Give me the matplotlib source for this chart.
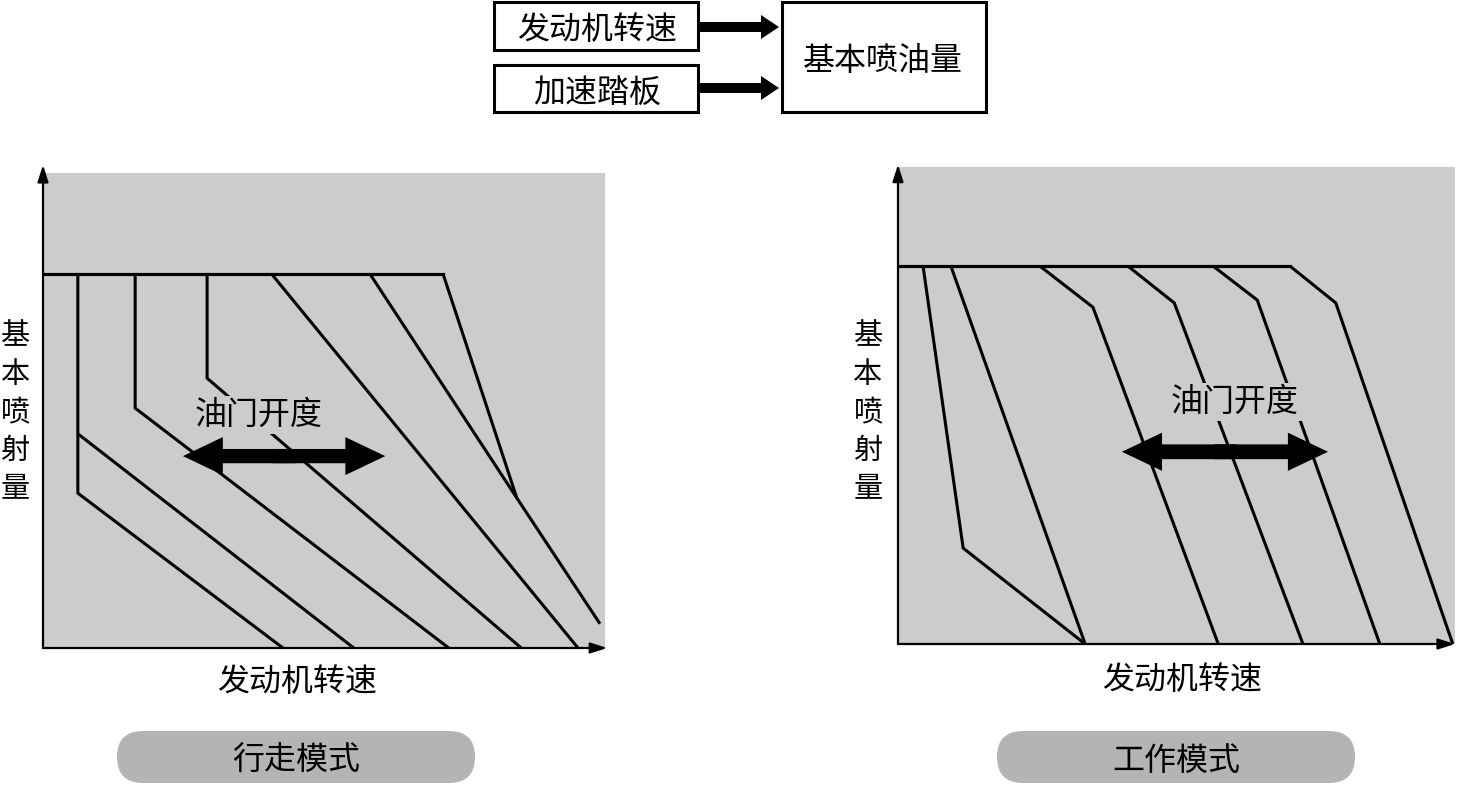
import matplotlib
matplotlib.use("Agg")
import matplotlib.pyplot as plt
from matplotlib.patches import Rectangle, FancyBboxPatch

plt.rcParams['font.family'] = ['Noto Sans CJK SC', 'DejaVu Sans']

# ---- data (engine speed 0-100 %, injection 0-100 %) ----
# 行走模式 (walking mode)
walk_full_x = [0, 71.2]
walk_full_y = [78.7, 78.7]
walk_x = [[6.2, 6.2, 42.7],
          [6.2, 55.3],
          [16.4, 16.4, 72.2],
          [29.2, 29.2, 85.1],
          [40.7, 95.2],
          [58.2, 84.3, 99.1],
          [71.2, 84.3]]
walk_y = [[78.7, 32.6, 0],
          [45.1, 0],
          [78.7, 50.5, 0],
          [78.7, 56.8, 0],
          [78.7, 0],
          [78.7, 31.6, 5.1],
          [78.7, 31.6]]

# 工作模式 (working mode)
work_full_x = [0, 70.4]
work_full_y = [79.2, 79.2]
work_x = [[4.5, 11.7, 33.6],
          [9.5, 33.6],
          [25.5, 35.0, 57.5],
          [41.3, 49.6, 72.7],
          [56.6, 64.5, 86.5],
          [70.4, 78.6, 99.6]]
work_y = [[79.2, 20.1, 0],
          [79.2, 0],
          [79.2, 70.6, 0],
          [79.2, 71.5, 0],
          [79.2, 72.1, 0],
          [79.2, 71.5, 0]]

ylabel_chars = ['基', '本', '喷', '射', '量']
xlabel = '发动机转速'
throttle_label = '油门开度'
mode_labels = ['行走模式', '工作模式']
block_inputs = ['发动机转速', '加速踏板']
block_output = '基本喷油量'

W, H = 1457, 797
GRAY = '#cccccc'
FS = 23

fig = plt.figure(figsize=(W / 100, H / 100), dpi=100)

# overlay in pixel units for the layout pieces
ax0 = fig.add_axes([0, 0, 1, 1])
ax0.set_xlim(0, W)
ax0.set_ylim(H, 0)
ax0.axis('off')


def px_axes(x0, y0, x1, y1):
    return [x0 / W, 1 - y1 / H, (x1 - x0) / W, (y1 - y0) / H]


def panel(rect, full_x, full_y, xs, ys, txt_pos, arr_x, arr_y, arr_half,
          arr_w, arr_hw, arr_hl, top_ext, right_ext):
    ax = fig.add_axes(px_axes(*rect))
    ax.set_xlim(0, 100)
    ax.set_ylim(0, 100)
    ax.set_facecolor(GRAY)
    ax.set_xticks([])
    ax.set_yticks([])
    for s in ax.spines.values():
        s.set_visible(False)
    ax.plot(full_x, full_y, color='black', lw=2.3, solid_joinstyle='miter')
    for x, y in zip(xs, ys):
        ax.plot(x, y, color='black', lw=2.2, solid_joinstyle='miter',
                solid_capstyle='butt', clip_on=False)
    # axes arrows
    ax.annotate('', xy=(0, 1 + top_ext), xytext=(0, 0), xycoords='axes fraction',
                arrowprops=dict(arrowstyle='-|>,head_length=0.5,head_width=0.16',
                                lw=1.6, color='black', mutation_scale=20,
                                shrinkA=0, shrinkB=0), annotation_clip=False)
    ax.annotate('', xy=(1 + right_ext, 0), xytext=(0, 0), xycoords='axes fraction',
                arrowprops=dict(arrowstyle='-|>,head_length=0.5,head_width=0.16',
                                lw=1.6, color='black', mutation_scale=20,
                                shrinkA=0, shrinkB=0), annotation_clip=False)
    ax.text(txt_pos[0], txt_pos[1], throttle_label, ha='center', va='center',
            fontsize=FS, zorder=5,
            bbox=dict(facecolor=GRAY, edgecolor='none', pad=2))
    # double-headed arrow: two halves overlapping at the middle
    for d in (1, -1):
        ax.arrow(arr_x - d * 2, arr_y, d * (arr_half + 2), 0, width=arr_w,
                 head_width=arr_hw, head_length=arr_hl,
                 length_includes_head=True, fc='black', ec='none', zorder=6)
    return ax


panel((43, 173, 605, 648), walk_full_x, walk_full_y, walk_x, walk_y,
      (38.3, 49.0), 42.9, 40.4, 18.0, 3.0, 8.0, 7.1, 0.017, 0.004)
panel((898, 167, 1455, 644), work_full_x, work_full_y, work_x, work_y,
      (60.5, 50.8), 58.7, 40.3, 18.5, 3.1, 8.0, 7.2, 0.005, 0.0)

# vertical y labels
char_y = [336, 375, 413, 451, 489]
for lx in (15, 868):
    for ch, cy in zip(ylabel_chars, char_y):
        ax0.text(lx, cy, ch, ha='center', va='center', fontsize=21)

# x labels
ax0.text(297, 682, xlabel, ha='center', va='center', fontsize=FS)
ax0.text(1182, 680, xlabel, ha='center', va='center', fontsize=FS)

# mode pills
for (px, lab) in zip([117, 997], mode_labels):
    ax0.add_patch(FancyBboxPatch((px, 731), 358, 52,
                                 boxstyle='round,pad=0,rounding_size=26',
                                 fc='#b4b4b4', ec='none'))
    ax0.text(px + 179, 761, lab, ha='center', va='center', fontsize=FS)

# block diagram
ax0.add_patch(Rectangle((494, 2), 204, 48, fc='white', ec='black', lw=2.2))
ax0.add_patch(Rectangle((494, 65), 204, 47, fc='white', ec='black', lw=2.2))
ax0.add_patch(Rectangle((782, 2), 204, 110, fc='white', ec='black', lw=2.2))
ax0.text(597, 30, block_inputs[0], ha='center', va='center', fontsize=FS)
ax0.text(597, 93, block_inputs[1], ha='center', va='center', fontsize=FS)
ax0.text(883, 61, block_output, ha='center', va='center', fontsize=FS)
for ay in (27, 88):
    ax0.arrow(699, ay, 80, 0, width=10, head_width=24, head_length=18,
              length_includes_head=True, fc='black', ec='none')

fig.savefig('out.png', dpi=100)
